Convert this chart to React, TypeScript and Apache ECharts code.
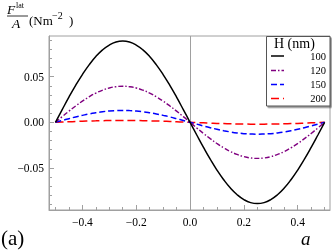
import React, { useEffect, useRef } from "react";
import * as echarts from "echarts";

const aValues = [
  -0.5, -0.475, -0.45, -0.425, -0.4, -0.375, -0.35, -0.325, -0.3, -0.275, -0.25,
  -0.225, -0.2, -0.175, -0.15, -0.125, -0.1, -0.075, -0.05, -0.025, 0,
  0.025, 0.05, 0.075, 0.1, 0.125, 0.15, 0.175, 0.2, 0.225, 0.25,
  0.275, 0.3, 0.325, 0.35, 0.375, 0.4, 0.425, 0.45, 0.475, 0.5,
];

const f100 = [
  0, 0.0139, 0.0275, 0.0404, 0.0523, 0.0629, 0.072, 0.0793, 0.0846, 0.0879, 0.089,
  0.0879, 0.0846, 0.0793, 0.072, 0.0629, 0.0523, 0.0404, 0.0275, 0.0139, 0,
  -0.0139, -0.0275, -0.0404, -0.0523, -0.0629, -0.072, -0.0793, -0.0846, -0.0879, -0.089,
  -0.0879, -0.0846, -0.0793, -0.072, -0.0629, -0.0523, -0.0404, -0.0275, -0.0139, 0,
];
const f120 = [
  0, 0.0062, 0.0122, 0.0179, 0.0232, 0.0279, 0.032, 0.0352, 0.0376, 0.039, 0.0395,
  0.039, 0.0376, 0.0352, 0.032, 0.0279, 0.0232, 0.0179, 0.0122, 0.0062, 0,
  -0.0062, -0.0122, -0.0179, -0.0232, -0.0279, -0.032, -0.0352, -0.0376, -0.039, -0.0395,
  -0.039, -0.0376, -0.0352, -0.032, -0.0279, -0.0232, -0.0179, -0.0122, -0.0062, 0,
];
const f150 = [
  0, 0.002, 0.004, 0.0059, 0.0076, 0.0092, 0.0105, 0.0116, 0.0124, 0.0128, 0.013,
  0.0128, 0.0124, 0.0116, 0.0105, 0.0092, 0.0076, 0.0059, 0.004, 0.002, 0,
  -0.002, -0.004, -0.0059, -0.0076, -0.0092, -0.0105, -0.0116, -0.0124, -0.0128, -0.013,
  -0.0128, -0.0124, -0.0116, -0.0105, -0.0092, -0.0076, -0.0059, -0.004, -0.002, 0,
];
const f200 = [
  0, 0.0003, 0.0006, 0.0009, 0.0012, 0.0014, 0.0016, 0.0018, 0.0019, 0.002, 0.002,
  0.002, 0.0019, 0.0018, 0.0016, 0.0014, 0.0012, 0.0009, 0.0006, 0.0003, 0,
  -0.0003, -0.0006, -0.0009, -0.0012, -0.0014, -0.0016, -0.0018, -0.0019, -0.002, -0.002,
  -0.002, -0.0019, -0.0018, -0.0016, -0.0014, -0.0012, -0.0009, -0.0006, -0.0003, 0,
];

const seriesNames = ["100", "120", "150", "200"];
const legendTitle = "H (nm)";
const xMajorTicks = [-0.4, -0.2, 0, 0.2, 0.4];
const xMinorTicks = [-0.5, -0.45, -0.4, -0.35, -0.3, -0.25, -0.2, -0.15, -0.1, -0.05, 0, 0.05, 0.1, 0.15, 0.2, 0.25, 0.3, 0.35, 0.4, 0.45, 0.5];
const yMajorTicks = [-0.05, 0, 0.05];
const yMinorTicks = [-0.09, -0.08, -0.07, -0.06, -0.05, -0.04, -0.03, -0.02, -0.01, 0, 0.01, 0.02, 0.03, 0.04, 0.05, 0.06, 0.07, 0.08, 0.09];

const SERIF = "'Liberation Serif', 'DejaVu Serif', serif";
const FRAME = "#a0a0a0";

const minus = (s: string) => s.replace("-", "\u2212");

const txt = (
  text: string,
  x: number,
  y: number,
  font: string,
  align: string = "left",
  z: number = 50
) => ({
  type: "text",
  x,
  y,
  z,
  style: { text, font, fill: "#000", align, verticalAlign: "middle" },
});

export default function App() {
  const ref = useRef<HTMLDivElement>(null);
  useEffect(() => {
    if (!ref.current) return;
    const chart = echarts.init(ref.current, undefined, { renderer: "svg" });
    const pair = (ys: number[]) => aValues.map((a, i) => [a, ys[i]]);
    const datasets = [f100, f120, f150, f200];
    const styles: any[] = [
      { color: "#000000", type: "solid", width: 1.5 },
      { color: "#800080", type: [5, 2, 1.5, 2], width: 1.4 },
      { color: "#0000ff", type: [6, 3], width: 1.5 },
      { color: "#ff0000", type: [8, 4], width: 1.5 },
    ];
    const xMin = -0.524;
    const xMax = 0.52;
    const yMin = -0.096;
    const yMax = 0.0945;

    const legendRows = [56, 70.5, 84.5, 98.5];
    const legendGraphics: any[] = [
      {
        type: "rect",
        z: 100,
        shape: { x: 266.5, y: 36.5, width: 63.5, height: 69.5 },
        style: {
          fill: "#fff",
          stroke: "#555",
          lineWidth: 1,
          shadowColor: "rgba(0,0,0,0.45)",
          shadowBlur: 1,
          shadowOffsetX: 1.5,
          shadowOffsetY: 1.5,
        },
      },
      txt(legendTitle, 274, 43.5, `14px ${SERIF}`, "left", 101),
    ];
    seriesNames.forEach((n, i) => {
      const s = styles[i];
      legendGraphics.push({
        type: "line",
        z: 101,
        shape: { x1: 271, y1: legendRows[i], x2: 284, y2: legendRows[i] },
        style: {
          stroke: s.color,
          lineWidth: s.width,
          lineDash: Array.isArray(s.type) ? s.type : null,
        },
      });
      legendGraphics.push(txt(n, 326, legendRows[i], `10.5px ${SERIF}`, "right", 101));
    });

    chart.setOption({
      animation: false,
      grid: {
        left: 49,
        top: 36,
        width: 281,
        height: 174,
        show: true,
        borderColor: FRAME,
        borderWidth: 1,
        backgroundColor: "transparent",
      },
      xAxis: [
        {
          type: "value",
          min: xMin,
          max: xMax,
          position: "bottom",
          axisLine: { show: true, onZero: false, lineStyle: { color: FRAME } },
          axisTick: { show: true, inside: true, length: 5, lineStyle: { color: FRAME }, customValues: xMajorTicks },
          axisLabel: {
            show: true,
            customValues: xMajorTicks,
            fontFamily: SERIF,
            fontSize: 11.5,
            color: "#000",
            margin: 6,
            formatter: (v: number) => minus(v.toFixed(1)),
          },
          splitLine: { show: false },
        },
        {
          type: "value",
          min: xMin,
          max: xMax,
          position: "bottom",
          axisLine: { show: false, onZero: false },
          axisTick: { show: true, inside: true, length: 3, lineStyle: { color: FRAME }, customValues: xMinorTicks },
          axisLabel: { show: false },
          splitLine: { show: false },
        },
      ],
      yAxis: [
        {
          type: "value",
          min: yMin,
          max: yMax,
          position: "left",
          axisLine: { show: true, onZero: false, lineStyle: { color: FRAME } },
          axisTick: { show: true, inside: true, length: 5, lineStyle: { color: FRAME }, customValues: yMajorTicks },
          axisLabel: {
            show: true,
            customValues: yMajorTicks,
            fontFamily: SERIF,
            fontSize: 11.5,
            color: "#000",
            margin: 5,
            formatter: (v: number) => minus(v.toFixed(2)),
          },
          splitLine: { show: false },
        },
        {
          type: "value",
          min: yMin,
          max: yMax,
          position: "left",
          axisLine: { show: false, onZero: false },
          axisTick: { show: true, inside: true, length: 3, lineStyle: { color: FRAME }, customValues: yMinorTicks },
          axisLabel: { show: false },
          splitLine: { show: false },
        },
      ],
      graphic: [
        txt("F", 7, 9, `italic 13.5px ${SERIF}`),
        txt("lat", 16, 5, `8px ${SERIF}`),
        { type: "line", shape: { x1: 7, y1: 16, x2: 28, y2: 16 }, style: { stroke: "#000", lineWidth: 0.8 } },
        txt("A", 12, 23.5, `italic 13.5px ${SERIF}`),
        txt("(Nm", 29, 20, `13px ${SERIF}`),
        txt("\u22122", 52, 15, `10px ${SERIF}`),
        txt(")", 69, 20, `13px ${SERIF}`),
        txt("(a)", 1, 238, `21px ${SERIF}`),
        txt("a", 301, 238, `italic 19px ${SERIF}`),
        ...legendGraphics,
      ],
      series: datasets.map((d, i) => ({
        name: seriesNames[i],
        type: "line",
        data: pair(d),
        showSymbol: false,
        symbol: "none",
        smooth: true,
        lineStyle: styles[i],
        itemStyle: { color: styles[i].color },
        z: 10 - i,
        ...(i === 0
          ? {
              markLine: {
                silent: true,
                symbol: "none",
                label: { show: false },
                lineStyle: { color: FRAME, type: "solid", width: 1 },
                data: [{ xAxis: 0 }],
              },
            }
          : {}),
      })),
    });
    return () => chart.dispose();
  }, []);
  return (
    <div
      ref={ref}
      style={{ position: "fixed", left: 0, top: 0, width: 332, height: 252 }}
    />
  );
}
